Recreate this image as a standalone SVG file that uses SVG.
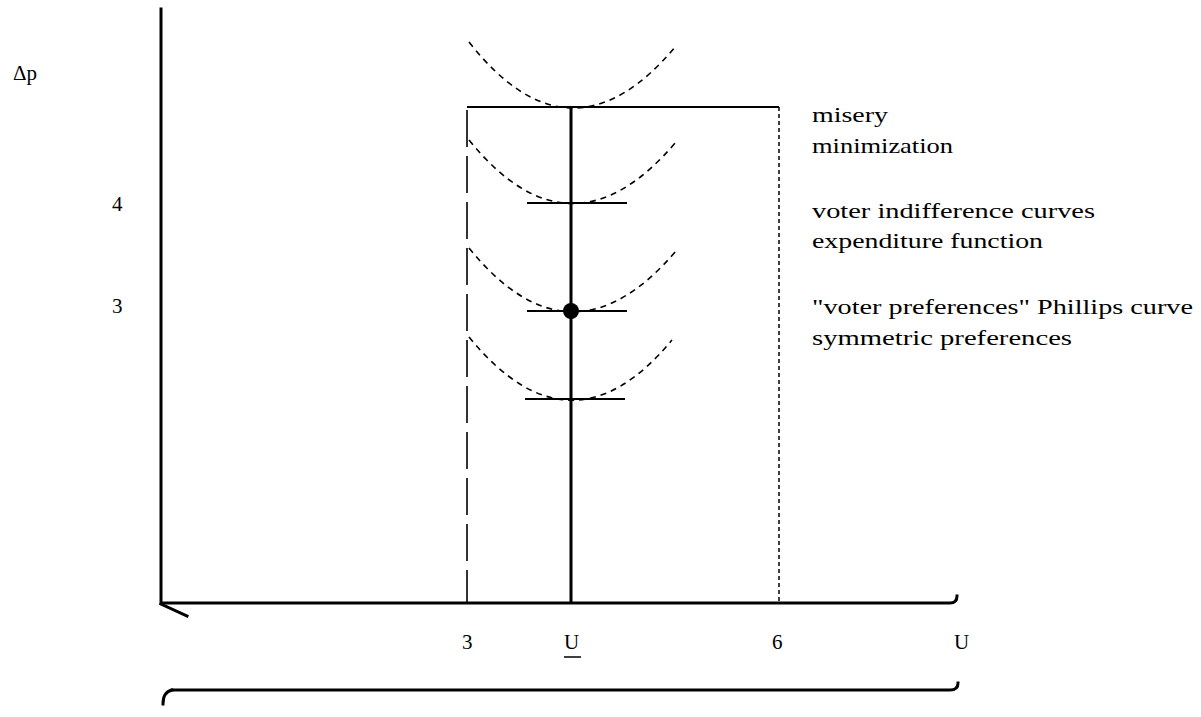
<svg xmlns="http://www.w3.org/2000/svg" width="1201" height="717" viewBox="0 0 1201 717">
<style>
.ax{fill:none;stroke:#000;stroke-width:3;stroke-linecap:square}
.thin{fill:none;stroke:#000;stroke-width:2}
.cv{fill:none;stroke:#000;stroke-width:1.6;stroke-dasharray:6,5}
.ld{fill:none;stroke:#000;stroke-width:1.6;stroke-dasharray:37,9}
.dt{fill:none;stroke:#000;stroke-width:1.5;stroke-dasharray:4,3}
text{font-family:"Liberation Serif","Times New Roman",serif;font-size:21px;fill:#000}
.r{font-size:22px}
</style>
<rect width="1201" height="717" fill="#fff"/>
<g id="axes">
<path class="ax" d="M161,9 V603 H950 Q957,603 957,596"/>
<path class="ax" d="M161,604 L187,616"/>
<path class="ax" d="M172,690 H950 Q958,690 958,683"/>
<path class="ax" d="M172,690 Q163,692 163,704"/>
</g>
<g id="connectors">
<path class="ld" d="M467,110 V603"/>
<path class="thin" d="M467,107 H779"/>
<path class="dt" d="M779,107 V603"/>
<path class="ax" d="M571,107 V603" style="stroke-linecap:butt"/>
<path class="thin" d="M527,203 H627"/>
<path class="thin" d="M527,311 H627"/>
<path class="thin" d="M525,399 H625"/>
<path class="cv" d="M469,42 Q571,172 676,46"/>
<path class="cv" d="M469,140 Q571,266 676,142"/>
<path class="cv" d="M469,248 Q571,374 676,251"/>
<path class="cv" d="M469,337 Q571,462 672,340"/>
</g>
<g id="point"><circle cx="571" cy="311" r="8" fill="#000"/></g>
<g id="labels">
<text x="13" y="80">Δp</text>
<text x="112" y="211">4</text>
<text x="112" y="313">3</text>
<text x="462" y="649">3</text>
<text x="564" y="649">U</text>
<path class="thin" d="M564,657 H581" style="stroke-width:1.5"/>
<text x="772" y="649">6</text>
<text x="954" y="649">U</text>
<text class="r" x="812" y="122" textLength="76" lengthAdjust="spacingAndGlyphs">misery</text>
<text class="r" x="812" y="153" textLength="141" lengthAdjust="spacingAndGlyphs">minimization</text>
<text class="r" x="812" y="218" textLength="283" lengthAdjust="spacingAndGlyphs">voter indifference curves</text>
<text class="r" x="812" y="248" textLength="231" lengthAdjust="spacingAndGlyphs">expenditure function</text>
<text class="r" x="812" y="314" textLength="381" lengthAdjust="spacingAndGlyphs">"voter preferences" Phillips curve</text>
<text class="r" x="812" y="345" textLength="260" lengthAdjust="spacingAndGlyphs">symmetric preferences</text>
</g>
</svg>
